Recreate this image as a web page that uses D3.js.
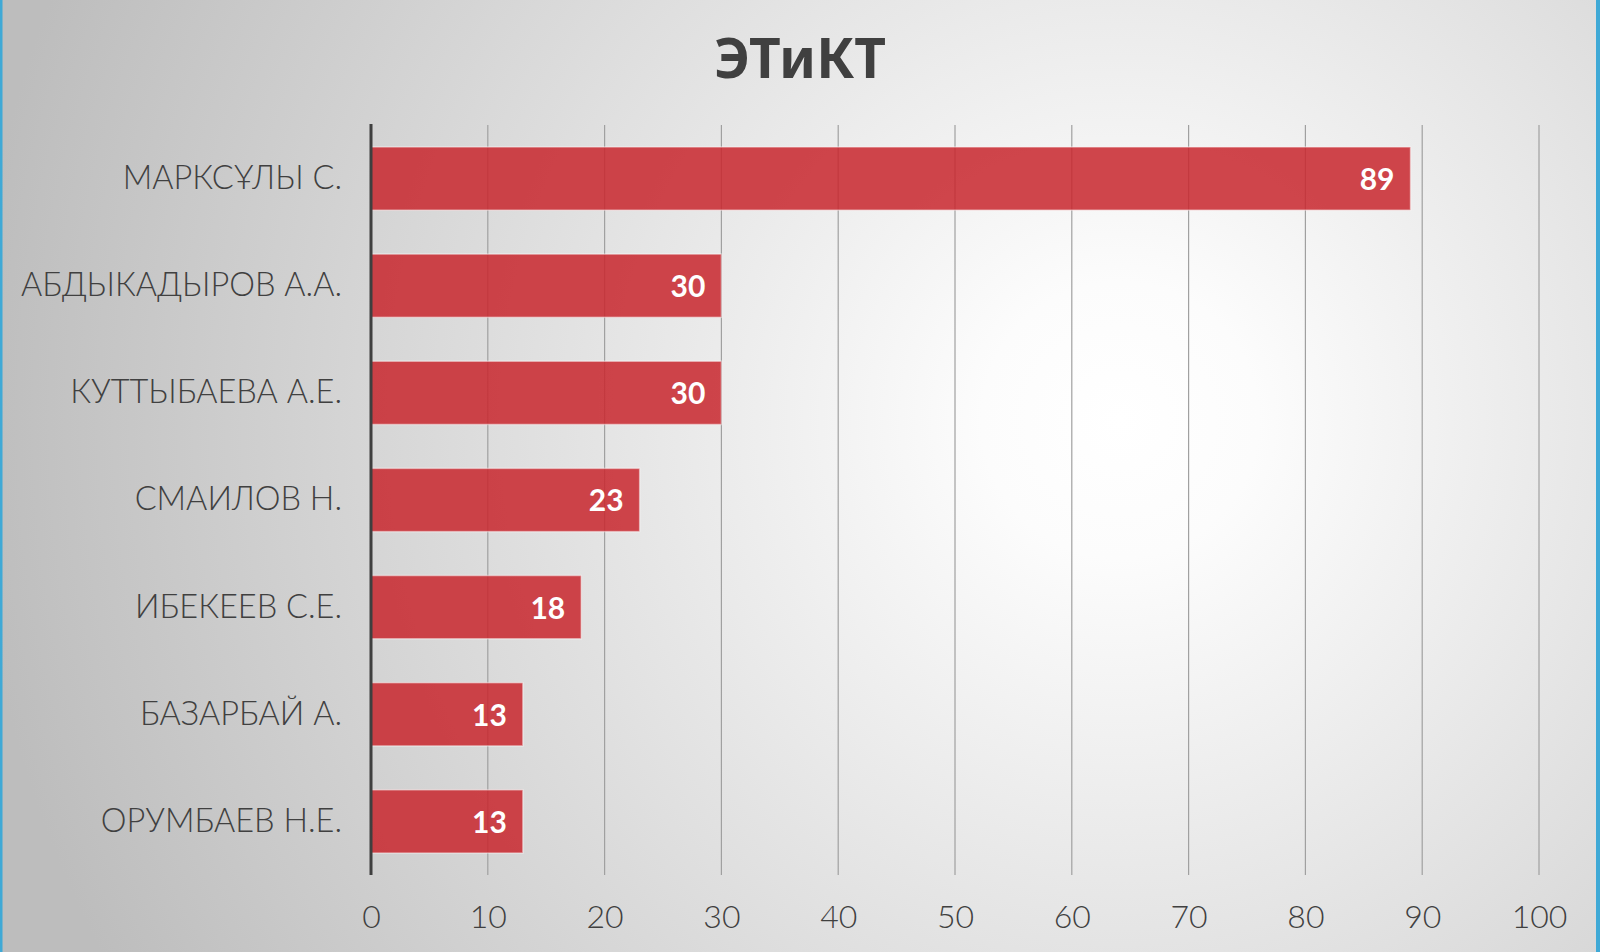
<!DOCTYPE html>
<meta charset="utf-8">
<script src="https://d3js.org/d3.v7.min.js"></script>
<style>
  body { margin: 0; overflow: hidden; }
  svg { display: block; }
</style>
<div id="chart"></div>
<script>

// data
var names = ["МАРКСҰЛЫ С.", "АБДЫКАДЫРОВ А.А.", "КУТТЫБАЕВА А.Е.", "СМАИЛОВ Н.", "ИБЕКЕЕВ С.Е.", "БАЗАРБАЙ А.", "ОРУМБАЕВ Н.Е."];
var scores = [89, 30, 30, 23, 18, 13, 13];
var xTicks = [0, 10, 20, 30, 40, 50, 60, 70, 80, 90, 100];
var title = "ЭТиКТ";

var W = 1600, H = 952;
var margin = {top: 125, right: 61, bottom: 78, left: 371};

var svg = d3.select("#chart").append("svg")
  .attr("width", W)
  .attr("height", H);

// background gradient
var defs = svg.append("defs");
var grad = defs.append("radialGradient")
  .attr("id", "bg")
  .attr("gradientUnits", "userSpaceOnUse")
  .attr("cx", 1120).attr("cy", 420).attr("r", 1150);
grad.append("stop").attr("offset", "0%").attr("stop-color", "#ffffff");
grad.append("stop").attr("offset", "12%").attr("stop-color", "#fcfcfc");
grad.append("stop").attr("offset", "100%").attr("stop-color", "#bdbdbd");

svg.append("rect").attr("width", W).attr("height", H).attr("fill", "url(#bg)");

// thin blue frame on the sides
svg.append("rect").attr("x", 0).attr("y", 0).attr("width", 2.5).attr("height", H).attr("fill", "#3fa9d6");
svg.append("rect").attr("x", W - 4).attr("y", 0).attr("width", 4).attr("height", H).attr("fill", "#3fa9d6");

var g = svg.append("g")
  .attr("transform", "translate(" + margin.left + "," + margin.top + ")");

var x = d3.scaleLinear()
  .domain([0, 100])
  .range([0, 1168]);

var y = d3.scaleBand()
  .domain(names)
  .range([0, 750])
  .paddingInner(0.41)
  .paddingOuter(0.205);

// gridlines
g.append("g")
  .selectAll("line")
  .data(xTicks.filter(function(d) { return d > 0; }))
  .enter()
  .append("line")
    .attr("x1", function(d) { return x(d); })
    .attr("x2", function(d) { return x(d); })
    .attr("y1", 0)
    .attr("y2", 750)
    .attr("stroke", "#a0a0a0")
    .attr("stroke-width", 1.2);

// bars
g.append("g")
  .selectAll("rect")
  .data(names)
  .enter()
  .append("rect")
    .attr("x", x(0))
    .attr("y", function(d) { return y(d); })
    .attr("width", function(d, i) { return x(scores[i]) - x(0); })
    .attr("height", y.bandwidth())
    .attr("fill", "#c8282e")
    .attr("fill-opacity", 0.86)
    .attr("stroke", "#ffffff")
    .attr("stroke-opacity", 0.45)
    .attr("stroke-width", 1.5);

// value labels
g.append("g")
  .selectAll("text")
  .data(names)
  .enter()
  .append("text")
    .attr("x", function(d, i) { return x(scores[i]) - 16; })
    .attr("y", function(d) { return y(d) + y.bandwidth() / 2; })
    .attr("dy", "0.38em")
    .attr("text-anchor", "end")
    .attr("fill", "#ffffff")
    .style("font-family", "Lato, 'Noto Sans', sans-serif")
    .style("font-weight", "bold")
    .style("font-size", "30px")
    .text(function(d, i) { return scores[i]; });

// y axis
var yAxis = g.append("g")
  .call(d3.axisLeft(y).tickSize(0).tickPadding(29));
yAxis.select(".domain").remove();
yAxis.selectAll("text")
  .attr("fill", "#404040")
  .style("font-family", "Lato, 'Noto Sans', sans-serif")
  .style("font-weight", "300")
  .style("font-size", "32.5px");

// the left baseline
g.append("line")
  .attr("x1", x(0)).attr("x2", x(0))
  .attr("y1", -1).attr("y2", 750)
  .attr("stroke", "#3f3f3f")
  .attr("stroke-width", 3);

// x axis
var xAxis = g.append("g")
  .attr("transform", "translate(0,750)")
  .call(d3.axisBottom(x).tickValues(xTicks).tickSize(0).tickPadding(30));
xAxis.select(".domain").remove();
xAxis.selectAll("text")
  .attr("fill", "#404040")
  .style("font-family", "Lato, 'Noto Sans', sans-serif")
  .style("font-weight", "300")
  .style("font-size", "32px");

// title
svg.append("text")
  .attr("x", 800)
  .attr("y", 58)
  .attr("dy", "0.36em")
  .attr("text-anchor", "middle")
  .attr("fill", "#404040")
  .style("font-family", "'Noto Sans', Lato, sans-serif")
  .style("font-weight", "bold")
  .style("font-size", "55px")
  .text(title);

</script>
